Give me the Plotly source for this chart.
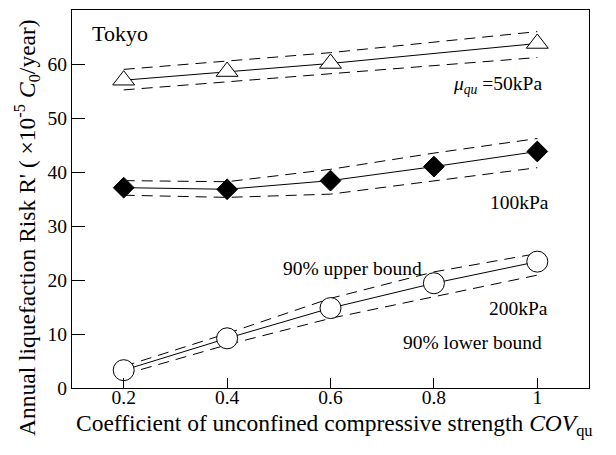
import plotly.graph_objects as go

cov = [0.2, 0.4, 0.6, 0.8, 1.0]

# 50 kPa (triangles) - no point at 0.8
cov50 = [0.2, 0.4, 0.6, 1.0]
r50 = [57.0, 58.6, 60.1, 63.8]
r50_up = [59.0, 60.5, 62.1, 66.0]
r50_lo = [55.2, 56.7, 58.1, 61.2]

# 100 kPa (diamonds)
r100 = [37.1, 36.8, 38.4, 41.0, 43.8]
r100_up = [38.4, 38.2, 40.5, 43.5, 46.2]
r100_lo = [35.7, 35.3, 35.9, 38.4, 40.8]

# 200 kPa (circles)
r200 = [3.3, 9.2, 14.8, 19.4, 23.4]
r200_up = [4.0, 10.1, 16.6, 21.5, 24.9]
r200_lo = [2.5, 8.0, 12.9, 16.9, 20.9]

xticks = [0.2, 0.4, 0.6, 0.8, 1.0]
xticklabels = ["0.2", "0.4", "0.6", "0.8", "1"]
yticks = [0, 10, 20, 30, 40, 50, 60, 70]

FONT = "Liberation Serif, Times New Roman, DejaVu Serif, serif"
fig = go.Figure()

dash_style = dict(color="black", width=1, dash="11px,7px")
for xs, ys in [(cov50, r50_up), (cov50, r50_lo), (cov, r100_up), (cov, r100_lo),
               (cov, r200_up), (cov, r200_lo)]:
    fig.add_trace(go.Scatter(x=xs, y=ys, mode="lines", line=dash_style,
                             showlegend=False, hoverinfo="skip"))

fig.add_trace(go.Scatter(x=cov50, y=r50, mode="lines+markers",
                         line=dict(color="black", width=1),
                         marker=dict(symbol="triangle-up", size=19, color="white",
                                     line=dict(color="black", width=1)),
                         showlegend=False))
fig.add_trace(go.Scatter(x=cov, y=r100, mode="lines+markers",
                         line=dict(color="black", width=1),
                         marker=dict(symbol="diamond", size=16, color="black",
                                     line=dict(color="black", width=1)),
                         showlegend=False))
fig.add_trace(go.Scatter(x=cov, y=r200, mode="lines+markers",
                         line=dict(color="black", width=1),
                         marker=dict(symbol="circle", size=21, color="white",
                                     line=dict(color="black", width=1)),
                         showlegend=False))

def ann(x, y, text, xanchor="left", size=19.5):
    fig.add_annotation(x=x, y=y, xref="x", yref="y", text=text, showarrow=False,
                       xanchor=xanchor, yanchor="middle",
                       font=dict(family=FONT, size=size, color="black"))

ann(0.134, 65.7, "Tokyo", size=22)
ann(1.012, 56.2, "<i>μ</i><sub><i>qu</i></sub> =50kPa", xanchor="right")
ann(1.026, 34.4, "100kPa", xanchor="right")
ann(0.780, 22.2, "90% upper bound", xanchor="right")
ann(1.024, 14.8, "200kPa", xanchor="right")
ann(1.012, 8.5, "90% lower bound", xanchor="right")

# axis titles placed as paper annotations (plot area on screen: x 72..589 px, y 10..388 px)
PW, PH = 517.0, 378.0
fig.add_annotation(x=(334 - 72) / PW, y=(388 - 425) / PH, xref="paper", yref="paper",
                   text="Coefficient of unconfined compressive strength <i>COV</i><sub>qu</sub>",
                   showarrow=False, xanchor="center", yanchor="middle",
                   font=dict(family=FONT, size=23.5, color="black"))
fig.add_annotation(x=(27 - 72) / PW, y=(388 - 228) / PH, xref="paper", yref="paper",
                   text="Annual liquefaction Risk R' ( ×10<sup>-5</sup> <i>C</i><sub>0</sub>/year)",
                   showarrow=False, xanchor="center", yanchor="middle", textangle=-90,
                   font=dict(family=FONT, size=23.5, color="black"))

# the page body adds an 8px offset; margins compensate so the plot box
# lands on screen at x 72..589, y 10..388
fig.update_layout(
    width=616, height=455,
    margin=dict(l=64, r=35, t=2, b=75, autoexpand=False),
    plot_bgcolor="white", paper_bgcolor="white",
    font=dict(family=FONT, size=19, color="black"),
)
fig.update_xaxes(range=[0.1, 1.1], tickvals=xticks, ticktext=xticklabels,
                 ticks="inside", ticklen=10, tickcolor="black", showgrid=False,
                 zeroline=False, showline=True, linecolor="black", linewidth=1,
                 mirror=True, automargin=False, ticklabelstandoff=-8,
                 tickfont=dict(family=FONT, size=19.5))
fig.update_yaxes(range=[0, 70], tickvals=yticks,
                 ticks="inside", ticklen=13, tickcolor="black", showgrid=False,
                 zeroline=False, showline=True, linecolor="black", linewidth=1,
                 mirror=True, automargin=False,
                 tickfont=dict(family=FONT, size=19.5))

fig.write_html("out.html")
